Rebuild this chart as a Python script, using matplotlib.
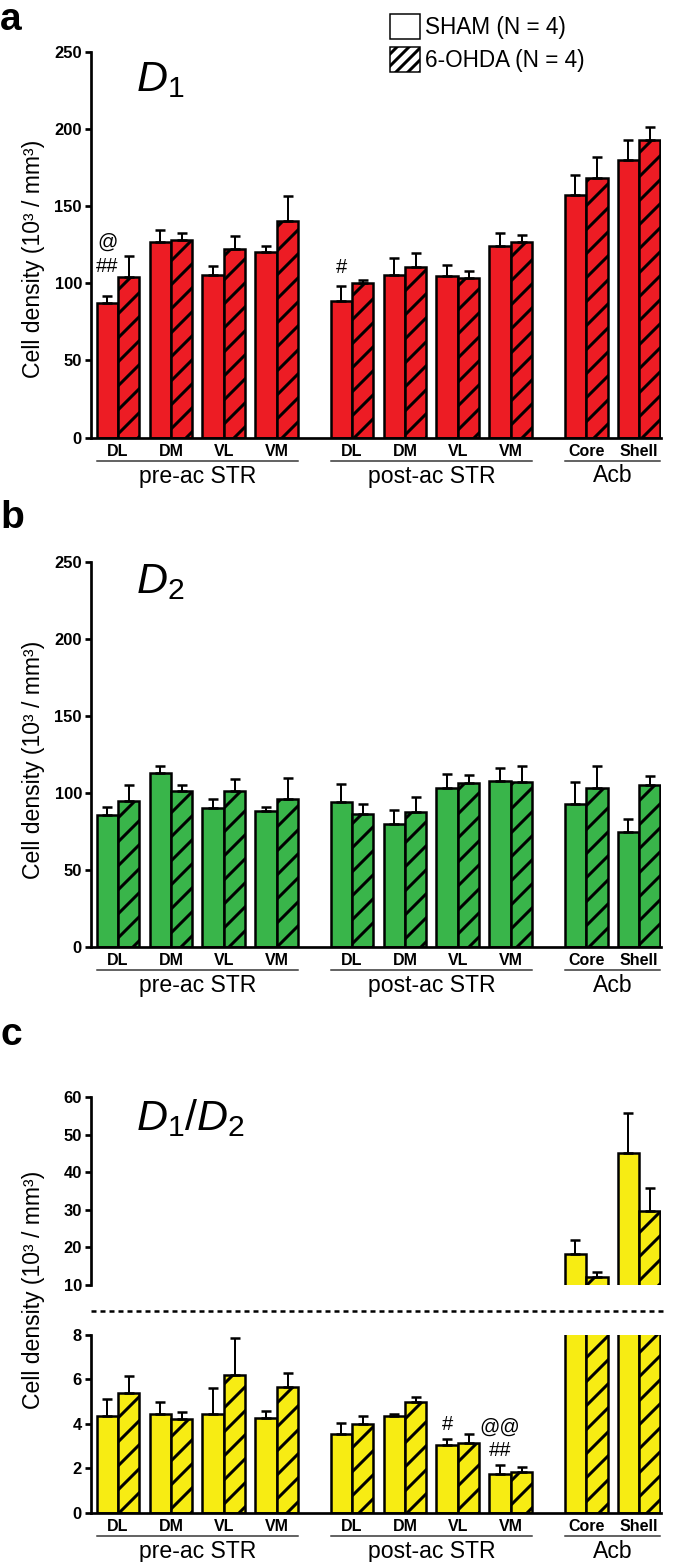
import numpy as np
import matplotlib
matplotlib.use("Agg")
import matplotlib.pyplot as plt
import matplotlib.transforms as mtransforms
from matplotlib.patches import Patch
from matplotlib.lines import Line2D

plt.rcParams['font.family'] = ['Liberation Sans', 'DejaVu Sans']
plt.rcParams['mathtext.fontset'] = 'custom'
plt.rcParams['mathtext.it'] = 'Liberation Sans:italic'
plt.rcParams['mathtext.rm'] = 'Liberation Sans'
plt.rcParams['hatch.linewidth'] = 3.0

# ---- data ----
REGIONS = ['DL', 'DM', 'VL', 'VM', 'DL', 'DM', 'VL', 'VM', 'Core', 'Shell']
GROUPS = ['pre-ac STR', 'post-ac STR', 'Acb']
GROUP_OF = [0, 0, 0, 0, 1, 1, 1, 1, 2, 2]
LEGEND = ['SHAM (N = 4)', '6-OHDA (N = 4)']

# D1
d1_sham = [87.5, 127.1, 105.7, 120.6, 88.8, 105.5, 104.9, 124.5, 157.0, 180.2]
d1_sham_err = [4.5, 7.6, 5.2, 3.3, 9.6, 10.8, 6.9, 8.1, 13.0, 13.0]
d1_ohda = [104.4, 128.2, 122.2, 140.6, 100.5, 110.5, 103.4, 126.7, 168.3, 193.2]
d1_ohda_err = [13.6, 4.1, 8.2, 16.2, 1.8, 9.1, 4.3, 4.8, 13.7, 8.2]

# D2
d2_sham = [85.9, 112.6, 90.2, 88.5, 94.1, 80.0, 103.3, 108.0, 93.0, 74.3]
d2_sham_err = [5.0, 4.8, 6.1, 2.4, 11.9, 9.1, 9.1, 8.3, 14.0, 8.7]
d2_ohda = [95.0, 101.5, 101.1, 96.3, 86.5, 87.4, 106.5, 107.2, 103.3, 105.0]
d2_ohda_err = [10.4, 3.5, 8.0, 13.5, 6.5, 10.2, 4.8, 10.2, 14.1, 5.9]

# D1/D2
dd_sham = [4.35, 4.43, 4.43, 4.28, 3.53, 4.35, 3.05, 1.74, 18.3, 45.0]
dd_sham_err = [0.77, 0.54, 1.17, 0.32, 0.49, 0.09, 0.25, 0.39, 3.7, 10.8]
dd_ohda = [5.38, 4.20, 6.20, 5.65, 4.00, 4.97, 3.15, 1.85, 12.1, 29.8]
dd_ohda_err = [0.78, 0.35, 1.65, 0.66, 0.35, 0.25, 0.39, 0.22, 1.3, 5.9]

# significance marks: (panel, region index, text, offset above error cap in px)
ANNOT = [('a', 0, '@', 53), ('a', 0, '##', 29), ('a', 4, '#', 18),
         ('c', 6, '#', 15), ('c', 7, '@@', 38), ('c', 7, '##', 15)]

RED = '#ED1C24'
GREEN = '#39B54A'
YELLOW = '#F7EC13'

DPI = 72
fig = plt.figure(figsize=(675 / DPI, 1562 / DPI), dpi=DPI)

GAP = 0.42
W = 0.405
x = np.arange(len(REGIONS)) + np.array(GROUP_OF) * GAP
L = 91 / 675
WID = (661 - 91) / 675


def draw_bars(ax, sham, sham_err, ohda, ohda_err, color):
    z = np.zeros(len(sham))
    ax.bar(x - W / 2, sham, W, color=color, edgecolor='k', linewidth=2.5, zorder=2)
    ax.bar(x + W / 2, ohda, W, color=color, edgecolor='k', linewidth=2.5, hatch='/', zorder=2)
    ax.errorbar(x - W / 2, sham, yerr=[z, sham_err], fmt='none', ecolor='k',
                elinewidth=2, capsize=5, capthick=2.5, zorder=3)
    ax.errorbar(x + W / 2, ohda, yerr=[z, ohda_err], fmt='none', ecolor='k',
                elinewidth=2, capsize=5, capthick=2.5, zorder=3)


def style(ax, ylim, yticks, xaxis=True):
    ax.set_xlim(x[0] - W - 0.105, x[-1] + W + 0.01)
    ax.set_ylim(*ylim)
    ax.set_yticks(yticks)
    for s in ['top', 'right']:
        ax.spines[s].set_visible(False)
    for s in ['left', 'bottom']:
        ax.spines[s].set_linewidth(2.7)
    ax.tick_params(axis='y', length=6, width=2.7, pad=3, labelsize=16.5)
    for lbl in ax.get_yticklabels():
        lbl.set_fontweight('bold')
    if xaxis:
        ax.set_xticks(x)
        ax.set_xticklabels(REGIONS, fontweight='bold')
        ax.tick_params(axis='x', length=0, pad=6.5, labelsize=16)
        # group lines + labels under the axis
        tr_line = mtransforms.offset_copy(ax.get_xaxis_transform(), fig=fig, y=-23.5, units='points')
        tr_text = mtransforms.offset_copy(ax.get_xaxis_transform(), fig=fig, y=-45, units='points')
        for g, name in enumerate(GROUPS):
            idx = [i for i, gg in enumerate(GROUP_OF) if gg == g]
            x0 = x[idx[0]] - W
            x1 = x[idx[-1]] + W
            ax.add_line(Line2D([x0, x1], [0, 0], transform=tr_line, color='#333333',
                               lw=1.5, clip_on=False))
            ax.text((x0 + x1) / 2, 0, name, transform=tr_text, ha='center',
                    va='baseline', fontsize=23)
    else:
        ax.spines['bottom'].set_visible(False)
        ax.set_xticks([])


def annotate(ax, panel, sham, sham_err):
    for p, i, t, off in ANNOT:
        if p != panel:
            continue
        ax.annotate(t, xy=(x[i] - W / 2, sham[i] + sham_err[i]), xytext=(0, off),
                    textcoords='offset points', ha='center', va='center', fontsize=20)


def label_D(ax, s, ypos=0.99):
    ax.text(0.079, ypos, s, transform=ax.transAxes, fontsize=43, ha='left', va='top')


# panel a
axa = fig.add_axes([L, 1 - 437.5 / 1562, WID, (437.5 - 52) / 1562])
draw_bars(axa, d1_sham, d1_sham_err, d1_ohda, d1_ohda_err, RED)
style(axa, (0, 250), [0, 50, 100, 150, 200, 250])
annotate(axa, 'a', d1_sham, d1_sham_err)
label_D(axa, r'$\mathit{D}_{\mathit{1}}$', 0.98)

# panel b
axb = fig.add_axes([L, 1 - 946.7 / 1562, WID, (946.7 - 562) / 1562])
draw_bars(axb, d2_sham, d2_sham_err, d2_ohda, d2_ohda_err, GREEN)
style(axb, (0, 250), [0, 50, 100, 150, 200, 250])
label_D(axb, r'$\mathit{D}_{\mathit{2}}$', 1.0)

# panel c (broken axis)
axc1 = fig.add_axes([L, 1 - 1285 / 1562, WID, (1285 - 1097) / 1562])
draw_bars(axc1, dd_sham, dd_sham_err, dd_ohda, dd_ohda_err, YELLOW)
style(axc1, (10, 60), [10, 20, 30, 40, 50, 60], xaxis=False)
label_D(axc1, r'$\mathit{D}_{\mathit{1}}\mathit{/D}_{\mathit{2}}$', 1.0)

axc2 = fig.add_axes([L, 1 - 1512.7 / 1562, WID, (1512.7 - 1335) / 1562])
draw_bars(axc2, dd_sham, dd_sham_err, dd_ohda, dd_ohda_err, YELLOW)
style(axc2, (0, 8), [0, 2, 4, 6, 8])
annotate(axc2, 'c', dd_sham, dd_sham_err)

fig.add_artist(Line2D([91 / 675, 665 / 675], [1 - 1311 / 1562] * 2, transform=fig.transFigure,
                      color='k', lw=2.5, linestyle=(0, (2, 1.6))))

# y labels
ylab = 'Cell density (10³ / mm³)'
for yc in [259, 760, 1290]:
    fig.text(34 / 675, 1 - yc / 1562, ylab, rotation=90, ha='center', va='center', fontsize=23)

# panel letters
for letter, yb in [('a', 30), ('b', 528), ('c', 1045)]:
    fig.text(0.0, 1 - yb / 1562, letter, fontsize=39, fontweight='bold', ha='left', va='baseline')

# legend
handles = [Patch(facecolor='white', edgecolor='k', linewidth=1.5, label=LEGEND[0]),
           Patch(facecolor='white', edgecolor='k', linewidth=1.5, hatch='//', label=LEGEND[1])]
fig.legend(handles=handles, loc='upper left', bbox_to_anchor=(390 / 675, 1 - 14 / 1562),
           frameon=False, fontsize=22.5, handlelength=1.35, handleheight=1.35,
           handletextpad=0.2, labelspacing=0.33, borderpad=0, borderaxespad=0)

fig.savefig('out.png', dpi=DPI)
